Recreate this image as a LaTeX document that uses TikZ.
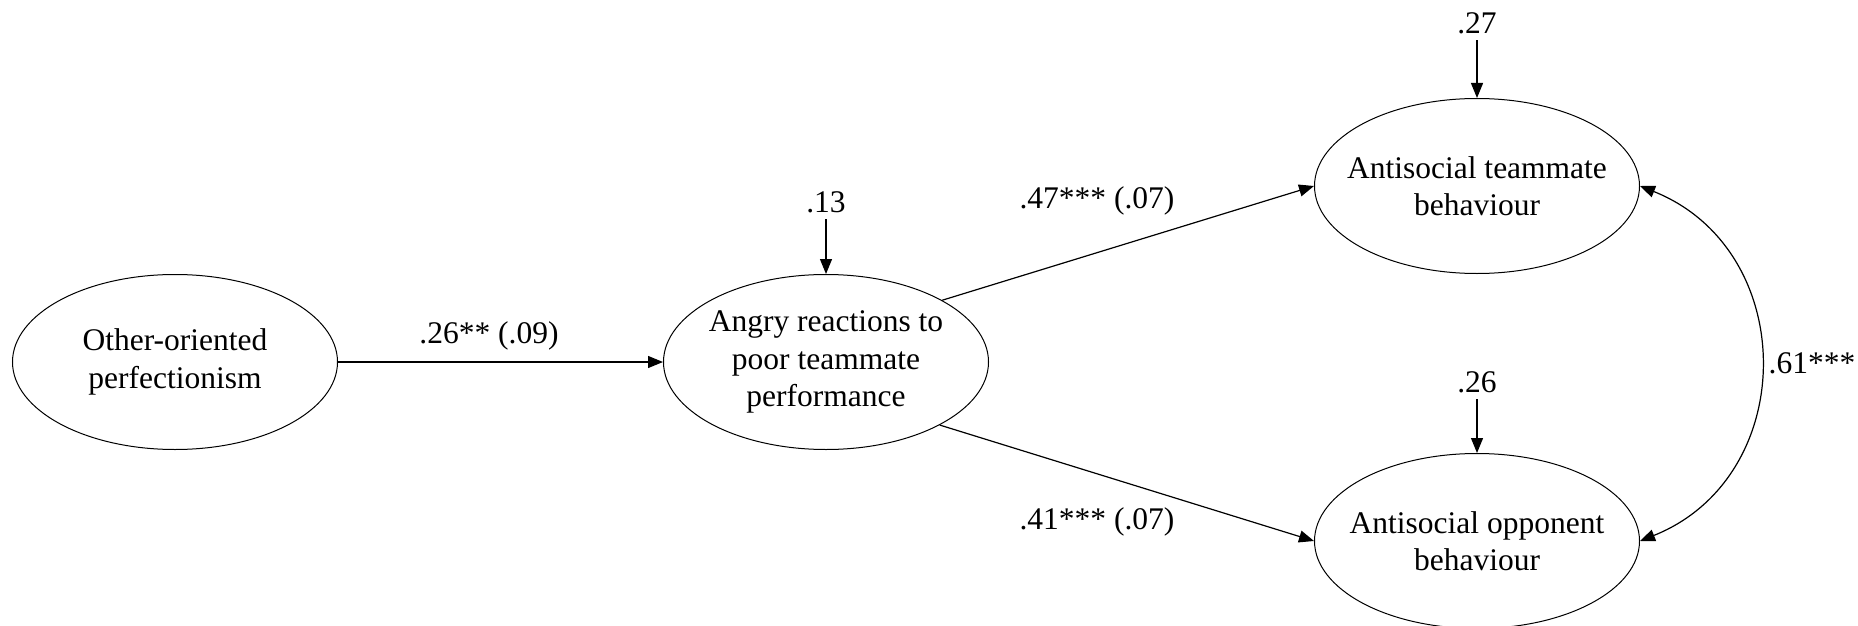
\documentclass[tikz,border=0pt]{standalone}
\usepackage{fontspec}
\setmainfont{Liberation Serif}
\usetikzlibrary{shapes.geometric, arrows.meta}

\begin{document}
\begin{tikzpicture}[
		x = 1pt, y = -1pt, % one unit per pixel, y downwards
		> = {Triangle[length=15pt, width=12pt]}, % arrow head style
		line width = 1.2pt, % line style
		font = \fontsize{31.5}{37.5}\selectfont,
		latent/.style = {ellipse, draw, line width=1pt, minimum width=325pt,
			minimum height=175pt, inner xsep=-20pt, inner ysep=0pt, align=center},
		resid/.style = {inner sep=6pt},
	]
	\useasboundingbox (0,0) rectangle (1858,626);
	% latent variables
	\node[latent] (oop) at (175, 362){Other-oriented\\perfectionism};
	\node[latent] (arp) at (826, 362){Angry reactions to\\poor teammate\\performance};
	\node[latent] (atb) at (1477, 186){Antisocial teammate\\behaviour};
	\node[latent] (aob) at (1477, 541){Antisocial opponent\\behaviour};
	% residuals
	\node[resid] (rarp) at (826, 202){.13};
	\node[resid] (ratb) at (1477, 23){.27};
	\node[resid] (raob) at (1477, 382){.26};
	\draw[->] (rarp) to (arp);
	\draw[->] (ratb) to (atb);
	\draw[->] (raob) to (aob);
	% paths
	\draw[->] (oop) to (arp);
	\draw[->] (arp.28.5) to (atb.west);
	\draw[->] (arp.331.5) to (aob.west);
	\draw[<->] (atb.east) .. controls +(160,64) and +(160,-64) .. (aob.east);
	% coefficients
	\node (coa) at (489, 336){.26** (.09)};
	\node (cob) at (1097, 201){.47*** (.07)};
	\node (coc) at (1097, 522){.41*** (.07)};
	\node (cod) at (1812, 363){.61***};
\end{tikzpicture}
\end{document}
